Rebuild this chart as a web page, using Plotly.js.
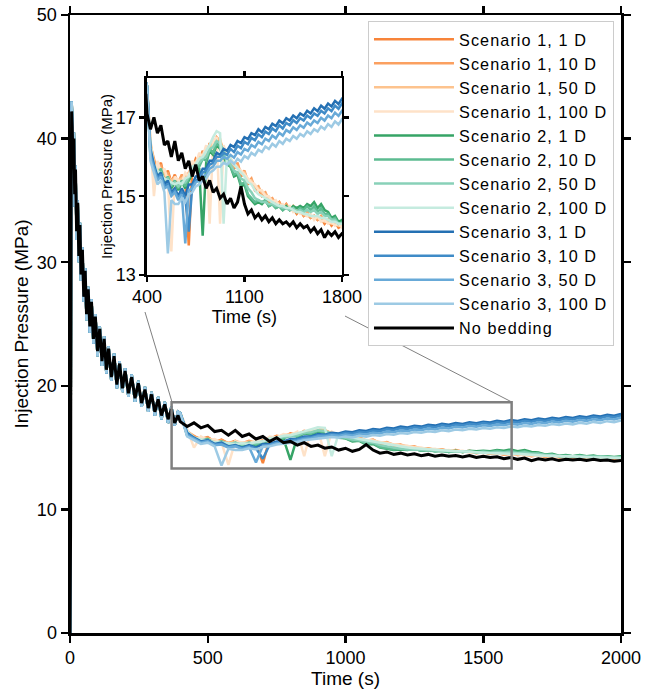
<!DOCTYPE html>
<html>
<head>
<meta charset="utf-8">
<script src="https://cdn.plot.ly/plotly-3.0.1.min.js"></script>
<style>html,body{margin:0;padding:0;background:#fff;}#chart{width:658px;height:693px;}
.legendtext{letter-spacing:1.1px;}</style>
</head>
<body>
<div id="chart"></div>
<script>
// ---------------- DATA ----------------
const tEarly = [0, 2, 4, 6, 8, 11, 14, 17,
  20, 24, 28, 32, 36, 40, 45, 50,
  55, 60, 66, 72, 78, 85, 92, 100,
  108, 116, 124, 132, 140, 150, 160, 170,
  180, 190, 200, 212, 224, 236, 248, 260,
  272, 284, 296, 308, 320, 332, 344, 356,
  368, 380, 392, 400];

const tLate = [425, 450, 475, 500, 525, 550, 575, 600,
  625, 650, 675, 700, 725, 750, 775, 800,
  825, 850, 875, 900, 925, 950, 975, 1000,
  1025, 1050, 1075, 1100, 1125, 1150, 1175, 1200,
  1225, 1250, 1275, 1300, 1325, 1350, 1375, 1400,
  1425, 1450, 1475, 1500, 1525, 1550, 1575, 1600,
  1625, 1650, 1675, 1700, 1725, 1750, 1775, 1800,
  1825, 1850, 1875, 1900, 1925, 1950, 1975, 2000];

const pBlackEarly = [0, 8, 35, 42.2, 41.0, 38.0, 40.0, 35.5,
  37.5, 32.5, 34.8, 30.5, 33.0, 29.0, 31.0, 27.2,
  29.3, 25.8, 27.8, 24.8, 26.8, 23.8, 25.6, 22.8,
  24.6, 22.0, 23.8, 21.3, 23.0, 20.7, 22.4, 20.1,
  21.8, 19.8, 21.2, 19.4, 20.7, 19.0, 20.2, 18.6,
  19.7, 18.2, 19.3, 17.9, 18.9, 17.6, 18.5, 17.3,
  18.1, 17.0, 17.6, 17.1];

const pScenarioEarly = [0, 8, 36, 43.0, 41.5, 37.0, 40.5, 34.5,
  37.8, 31.8, 35.0, 30.0, 33.2, 28.5, 31.2, 26.8,
  29.5, 25.3, 28.0, 24.3, 27.0, 23.4, 25.8, 22.4,
  24.8, 21.6, 24.0, 21.0, 23.2, 20.4, 22.6, 19.8,
  22.0, 19.5, 21.4, 19.1, 20.9, 18.7, 20.4, 18.3,
  19.9, 17.9, 19.5, 17.6, 19.1, 17.3, 18.7, 17.0,
  18.3, 16.8, 17.9, 17.8];

const pBlackLate = [16.7, 17.0, 16.6, 16.8, 16.3, 16.4, 16.0, 16.4,
  15.9, 16.1, 15.7, 15.9, 15.5, 15.8, 15.4, 15.5,
  15.2, 15.4, 15.1, 15.2, 14.95, 15.05, 14.8, 14.95,
  14.7, 14.85, 15.25, 14.8, 14.55, 14.65, 14.45, 14.55,
  14.4, 14.5, 14.35, 14.45, 14.3, 14.4, 14.3, 14.35,
  14.25, 14.35, 14.2, 14.3, 14.2, 14.25, 14.1, 14.2,
  14.05, 14.15, 13.95, 14.1, 14.0, 14.1, 13.95, 14.05,
  14.0, 14.05, 13.95, 14.05, 13.95, 14.0, 13.9, 13.95];

const s1_1D = [16.2, 15.9, 15.7, 15.85, 15.45, 15.65, 15.35, 15.55,
  15.3, 15.5, 15.35, 13.75, 15.7, 15.95, 15.85, 16.15,
  16.0, 16.35, 16.2, 16.45, 16.35, 16.2, 15.95, 15.95,
  15.7, 15.8, 15.5, 15.6, 15.3, 15.4, 15.15, 15.2,
  15.0, 15.05, 14.85, 14.9, 14.75, 14.85, 14.7, 14.8,
  14.65, 14.7, 14.55, 14.65, 14.5, 14.55, 14.45, 14.5,
  14.4, 14.45, 14.3, 14.4, 14.25, 14.35, 14.2, 14.25,
  14.2, 14.3, 14.15, 14.25, 14.15, 14.2, 14.1, 14.15];

const s1_10D = [16.3, 15.95, 15.6, 15.8, 15.5, 15.6, 15.3, 15.5,
  15.35, 15.55, 15.4, 15.6, 15.75, 15.9, 15.9, 16.1,
  16.05, 16.3, 16.25, 16.5, 16.4, 16.15, 16.0, 15.9,
  15.75, 15.85, 15.55, 15.65, 15.35, 15.45, 15.2, 15.25,
  15.05, 15.1, 14.9, 14.95, 14.8, 14.85, 14.7, 14.8,
  14.65, 14.75, 14.6, 14.65, 14.5, 14.6, 14.45, 14.5,
  14.4, 14.5, 14.35, 14.4, 14.3, 14.35, 14.25, 14.3,
  14.2, 14.3, 14.2, 14.25, 14.15, 14.25, 14.15, 14.2];

const s1_50D = [16.4, 15.8, 15.75, 15.7, 15.55, 15.5, 15.4, 15.45,
  15.4, 15.45, 15.5, 15.55, 15.8, 15.85, 16.0, 16.05,
  16.15, 16.25, 16.35, 16.45, 16.45, 16.1, 16.05, 15.85,
  15.8, 15.75, 15.6, 15.6, 15.4, 15.4, 15.25, 15.2,
  15.1, 15.05, 14.95, 14.9, 14.85, 14.8, 14.75, 14.75,
  14.7, 14.65, 14.6, 14.6, 14.55, 14.5, 14.5, 14.45,
  14.45, 14.4, 14.35, 14.35, 14.3, 14.3, 14.25, 14.25,
  14.25, 14.2, 14.2, 14.2, 14.15, 14.15, 14.15, 14.1];

const s1_100D = [16.5, 15.0, 15.9, 15.6, 15.7, 15.4, 13.6, 15.5,
  15.4, 15.35, 15.6, 15.5, 15.9, 15.8, 16.1, 16.0,
  16.3, 14.3, 16.4, 16.5, 14.3, 16.3, 16.0, 15.95,
  15.85, 15.7, 15.65, 15.55, 15.45, 15.35, 15.3, 15.15,
  15.15, 15.0, 15.0, 14.85, 14.9, 14.75, 14.8, 14.7,
  14.75, 14.6, 14.65, 14.55, 14.6, 14.5, 14.55, 14.4,
  14.5, 14.35, 14.4, 14.3, 14.35, 14.25, 14.3, 14.2,
  14.3, 14.2, 14.25, 14.15, 14.2, 14.15, 14.2, 14.1];

const s2_1D = [16.0, 15.75, 15.5, 15.65, 15.3, 15.45, 15.2, 15.35,
  15.15, 15.35, 15.2, 15.4, 15.55, 15.75, 15.7, 14.0,
  15.85, 16.15, 16.05, 16.3, 16.2, 16.0, 15.8, 15.75,
  15.5, 15.55, 15.25, 15.3, 15.0, 14.9, 14.8, 14.85,
  14.8, 14.9, 14.75, 14.8, 14.7, 14.75, 14.65, 14.75,
  14.65, 14.75, 14.7, 14.75, 14.7, 14.8, 14.75, 14.85,
  14.7, 14.8, 14.65, 14.6, 14.45, 14.5, 14.35, 14.4,
  14.3, 14.4, 14.3, 14.35, 14.25, 14.3, 14.25, 14.3];

const s2_10D = [16.1, 15.8, 15.55, 15.7, 15.35, 15.5, 15.25, 15.4,
  15.2, 15.4, 15.25, 15.45, 15.6, 15.8, 15.75, 15.95,
  15.9, 16.2, 16.1, 16.35, 16.25, 16.05, 15.85, 15.75,
  15.55, 15.6, 15.3, 15.35, 15.05, 14.95, 14.85, 14.9,
  14.85, 14.9, 14.75, 14.8, 14.7, 14.75, 14.65, 14.7,
  14.65, 14.7, 14.6, 14.7, 14.65, 14.75, 14.65, 14.75,
  14.6, 14.7, 14.55, 14.55, 14.4, 14.45, 14.3, 14.35,
  14.3, 14.35, 14.25, 14.3, 14.25, 14.25, 14.2, 14.25];

const s2_50D = [16.2, 15.7, 15.6, 15.6, 15.4, 15.45, 15.3, 15.35,
  15.25, 15.35, 15.35, 15.5, 15.65, 15.75, 15.85, 15.95,
  16.0, 16.2, 16.25, 16.4, 16.35, 16.15, 15.95, 15.8,
  15.65, 15.6, 15.45, 15.4, 15.2, 15.1, 14.95, 14.9,
  14.85, 14.85, 14.8, 14.8, 14.75, 14.75, 14.7, 14.7,
  14.65, 14.7, 14.6, 14.65, 14.6, 14.65, 14.6, 14.65,
  14.55, 14.6, 14.5, 14.5, 14.4, 14.4, 14.3, 14.3,
  14.3, 14.3, 14.25, 14.3, 14.25, 14.25, 14.2, 14.2];

const s2_100D = [16.3, 15.8, 15.65, 15.55, 15.45, 15.4, 15.35, 15.3,
  15.35, 15.3, 15.45, 15.5, 15.75, 15.8, 15.95, 16.0,
  16.15, 16.3, 16.5, 16.65, 16.6, 14.3, 16.1, 15.95,
  15.8, 15.7, 15.6, 15.5, 15.35, 15.3, 15.15, 15.05,
  15.0, 14.95, 14.9, 14.85, 14.8, 14.75, 14.75, 14.7,
  14.7, 14.65, 14.6, 14.6, 14.55, 14.55, 14.5, 14.5,
  14.5, 14.45, 14.45, 14.4, 14.35, 14.35, 14.3, 14.3,
  14.3, 14.25, 14.25, 14.2, 14.2, 14.2, 14.15, 14.15];

const s3_1D = [16.2, 15.8, 15.5, 15.6, 15.3, 15.4, 15.1, 15.2,
  15.0, 15.2, 15.0, 15.3, 15.3, 15.5, 15.5, 15.7,
  15.7, 15.9, 15.9, 16.1, 16.05, 16.2, 16.15, 16.3,
  16.25, 16.4, 16.35, 16.5, 16.45, 16.6, 16.55, 16.7,
  16.62, 16.76, 16.7, 16.84, 16.78, 16.92, 16.85, 16.98,
  16.92, 17.05, 16.98, 17.1, 17.04, 17.17, 17.1, 17.23,
  17.16, 17.3, 17.22, 17.35, 17.28, 17.42, 17.34, 17.47,
  17.4, 17.53, 17.46, 17.6, 17.52, 17.66, 17.58, 17.72];

const s3_10D = [16.1, 15.75, 15.45, 15.55, 15.25, 15.3, 15.05, 15.15,
  14.95, 15.1, 14.95, 14.1, 15.25, 15.4, 15.45, 15.6,
  15.65, 15.8, 15.85, 16.0, 16.0, 16.1, 16.05, 16.2,
  16.12, 16.28, 16.22, 16.38, 16.32, 16.48, 16.42, 16.57,
  16.5, 16.64, 16.58, 16.72, 16.65, 16.8, 16.72, 16.86,
  16.8, 16.93, 16.86, 16.98, 16.92, 17.05, 16.98, 17.1,
  17.04, 17.17, 17.1, 17.23, 17.16, 17.3, 17.22, 17.35,
  17.28, 17.41, 17.34, 17.47, 17.4, 17.54, 17.46, 17.6];

const s3_50D = [16.0, 15.7, 15.4, 15.5, 15.2, 15.25, 15.0, 15.1,
  14.9, 15.05, 13.8, 15.15, 15.2, 15.35, 15.4, 15.5,
  15.55, 15.7, 15.75, 15.9, 15.9, 16.0, 15.95, 16.05,
  15.98, 16.12, 16.06, 16.2, 16.15, 16.3, 16.24, 16.38,
  16.32, 16.46, 16.4, 16.54, 16.47, 16.61, 16.54, 16.68,
  16.62, 16.75, 16.68, 16.8, 16.74, 16.87, 16.8, 16.92,
  16.86, 16.99, 16.92, 17.05, 16.98, 17.12, 17.04, 17.17,
  17.1, 17.23, 17.16, 17.3, 17.22, 17.36, 17.28, 17.42];

const s3_100D = [15.9, 15.6, 15.3, 15.4, 15.1, 13.55, 14.9, 14.8,
  14.8, 14.95, 14.85, 15.05, 15.1, 15.25, 15.3, 15.4,
  15.45, 15.6, 15.65, 15.75, 15.75, 15.85, 15.8, 15.9,
  15.82, 15.95, 15.88, 16.02, 15.96, 16.1, 16.04, 16.18,
  16.12, 16.26, 16.2, 16.33, 16.26, 16.4, 16.33, 16.46,
  16.4, 16.53, 16.46, 16.58, 16.52, 16.65, 16.58, 16.7,
  16.64, 16.77, 16.7, 16.83, 16.76, 16.9, 16.82, 16.95,
  16.88, 17.01, 16.94, 17.08, 17.0, 17.14, 17.06, 17.2];

const seriesNames = ['Scenario 1, 1 D', 'Scenario 1, 10 D', 'Scenario 1, 50 D', 'Scenario 1, 100 D',
  'Scenario 2, 1 D', 'Scenario 2, 10 D', 'Scenario 2, 50 D', 'Scenario 2, 100 D',
  'Scenario 3, 1 D', 'Scenario 3, 10 D', 'Scenario 3, 50 D', 'Scenario 3, 100 D',
  'No bedding'];
const seriesLate = [s1_1D, s1_10D, s1_50D, s1_100D, s2_1D, s2_10D, s2_50D, s2_100D,
  s3_1D, s3_10D, s3_50D, s3_100D, pBlackLate];
const seriesColors = ['#f7843a', '#fba060', '#fdc38e', '#fee2c8',
  '#36a466', '#5cbb91', '#88d1b8', '#c5ebdf',
  '#2470b3', '#3f8bc7', '#68aad8', '#9dcae4',
  '#000000'];

// ---------------- BUILD ----------------
const FONT = 'Liberation Sans, Arial, sans-serif';
const time = tEarly.concat(tLate);
const traces = [];
const nS = seriesNames.length;
[['x', 'y', true], ['x2', 'y2', false]].forEach(([xa, ya, main]) => {
  seriesNames.forEach((name, i) => {
    const isBlack = i === nS - 1;
    const early = isBlack ? pBlackEarly : pScenarioEarly;
    traces.push({
      x: time, y: early.concat(seriesLate[i]), name: name, type: 'scatter', mode: 'lines',
      line: {color: seriesColors[i], width: isBlack ? 3 : 2.5},
      xaxis: xa, yaxis: ya, showlegend: main
    });
  });
});

const axCommon = {
  showline: true, linecolor: '#000', linewidth: 2.5, mirror: 'ticks',
  ticks: 'outside', tickcolor: '#000', tickwidth: 2.5,
  showgrid: false, zeroline: false,
  tickfont: {family: FONT, size: 18, color: '#000'}
};

const layout = {
  width: 658, height: 693,
  margin: {l: 70, r: 37, t: 15, b: 60},
  paper_bgcolor: '#fff', plot_bgcolor: '#fff',
  font: {family: FONT, color: '#000'},
  showlegend: true,
  xaxis: Object.assign({}, axCommon, {
    range: [0, 2000], tickvals: [0, 500, 1000, 1500, 2000], ticklen: 7,
    title: {text: 'Time (s)', font: {family: FONT, size: 19, color: '#000'}, standoff: 5}
  }),
  yaxis: Object.assign({}, axCommon, {
    range: [0, 50], tickvals: [0, 10, 20, 30, 40, 50], ticklen: 7,
    title: {text: 'Injection Pressure (MPa)', font: {family: FONT, size: 19, color: '#000'}, standoff: 3}
  }),
  xaxis2: Object.assign({}, axCommon, {
    domain: [0.1397, 0.4936], anchor: 'y2',
    range: [400, 1800], tickvals: [400, 1100, 1800], ticklen: 5, ticklabelstandoff: -1,
    title: {text: 'Time (s)', font: {family: FONT, size: 18, color: '#000'}, standoff: 3}
  }),
  yaxis2: Object.assign({}, axCommon, {
    domain: [0.5793, 0.898], anchor: 'x2',
    range: [13, 18], tickvals: [13, 15, 17], ticklen: 5,
    title: {text: 'Injection Pressure (MPa)', font: {family: FONT, size: 15, color: '#000'}, standoff: 0}
  }),
  legend: {
    x: 0.5408, y: 0.9900, xanchor: 'left', yanchor: 'top',
    bgcolor: '#fff', bordercolor: '#cccccc', borderwidth: 1,
    font: {family: FONT, size: 16.2, color: '#000'},
    itemwidth: 80, tracegroupgap: 0
  },
  shapes: [
    {type: 'rect', xref: 'x', yref: 'y', x0: 368.8, x1: 1603, y0: 13.3, y1: 18.67,
     line: {color: '#7f7f7f', width: 2.5}, layer: 'above'},
    {type: 'line', xref: 'paper', yref: 'paper', x0: 0.1361, y0: 0.5194, x1: 0.1851, y1: 0.3738,
     line: {color: '#808080', width: 1}, layer: 'above'},
    {type: 'line', xref: 'paper', yref: 'paper', x0: 0.4991, y0: 0.5129, x1: 0.8017, y1: 0.3738,
     line: {color: '#808080', width: 1}, layer: 'above'}
  ]
};

Plotly.newPlot('chart', traces, layout, {displayModeBar: false, staticPlot: true});
</script>
</body>
</html>
